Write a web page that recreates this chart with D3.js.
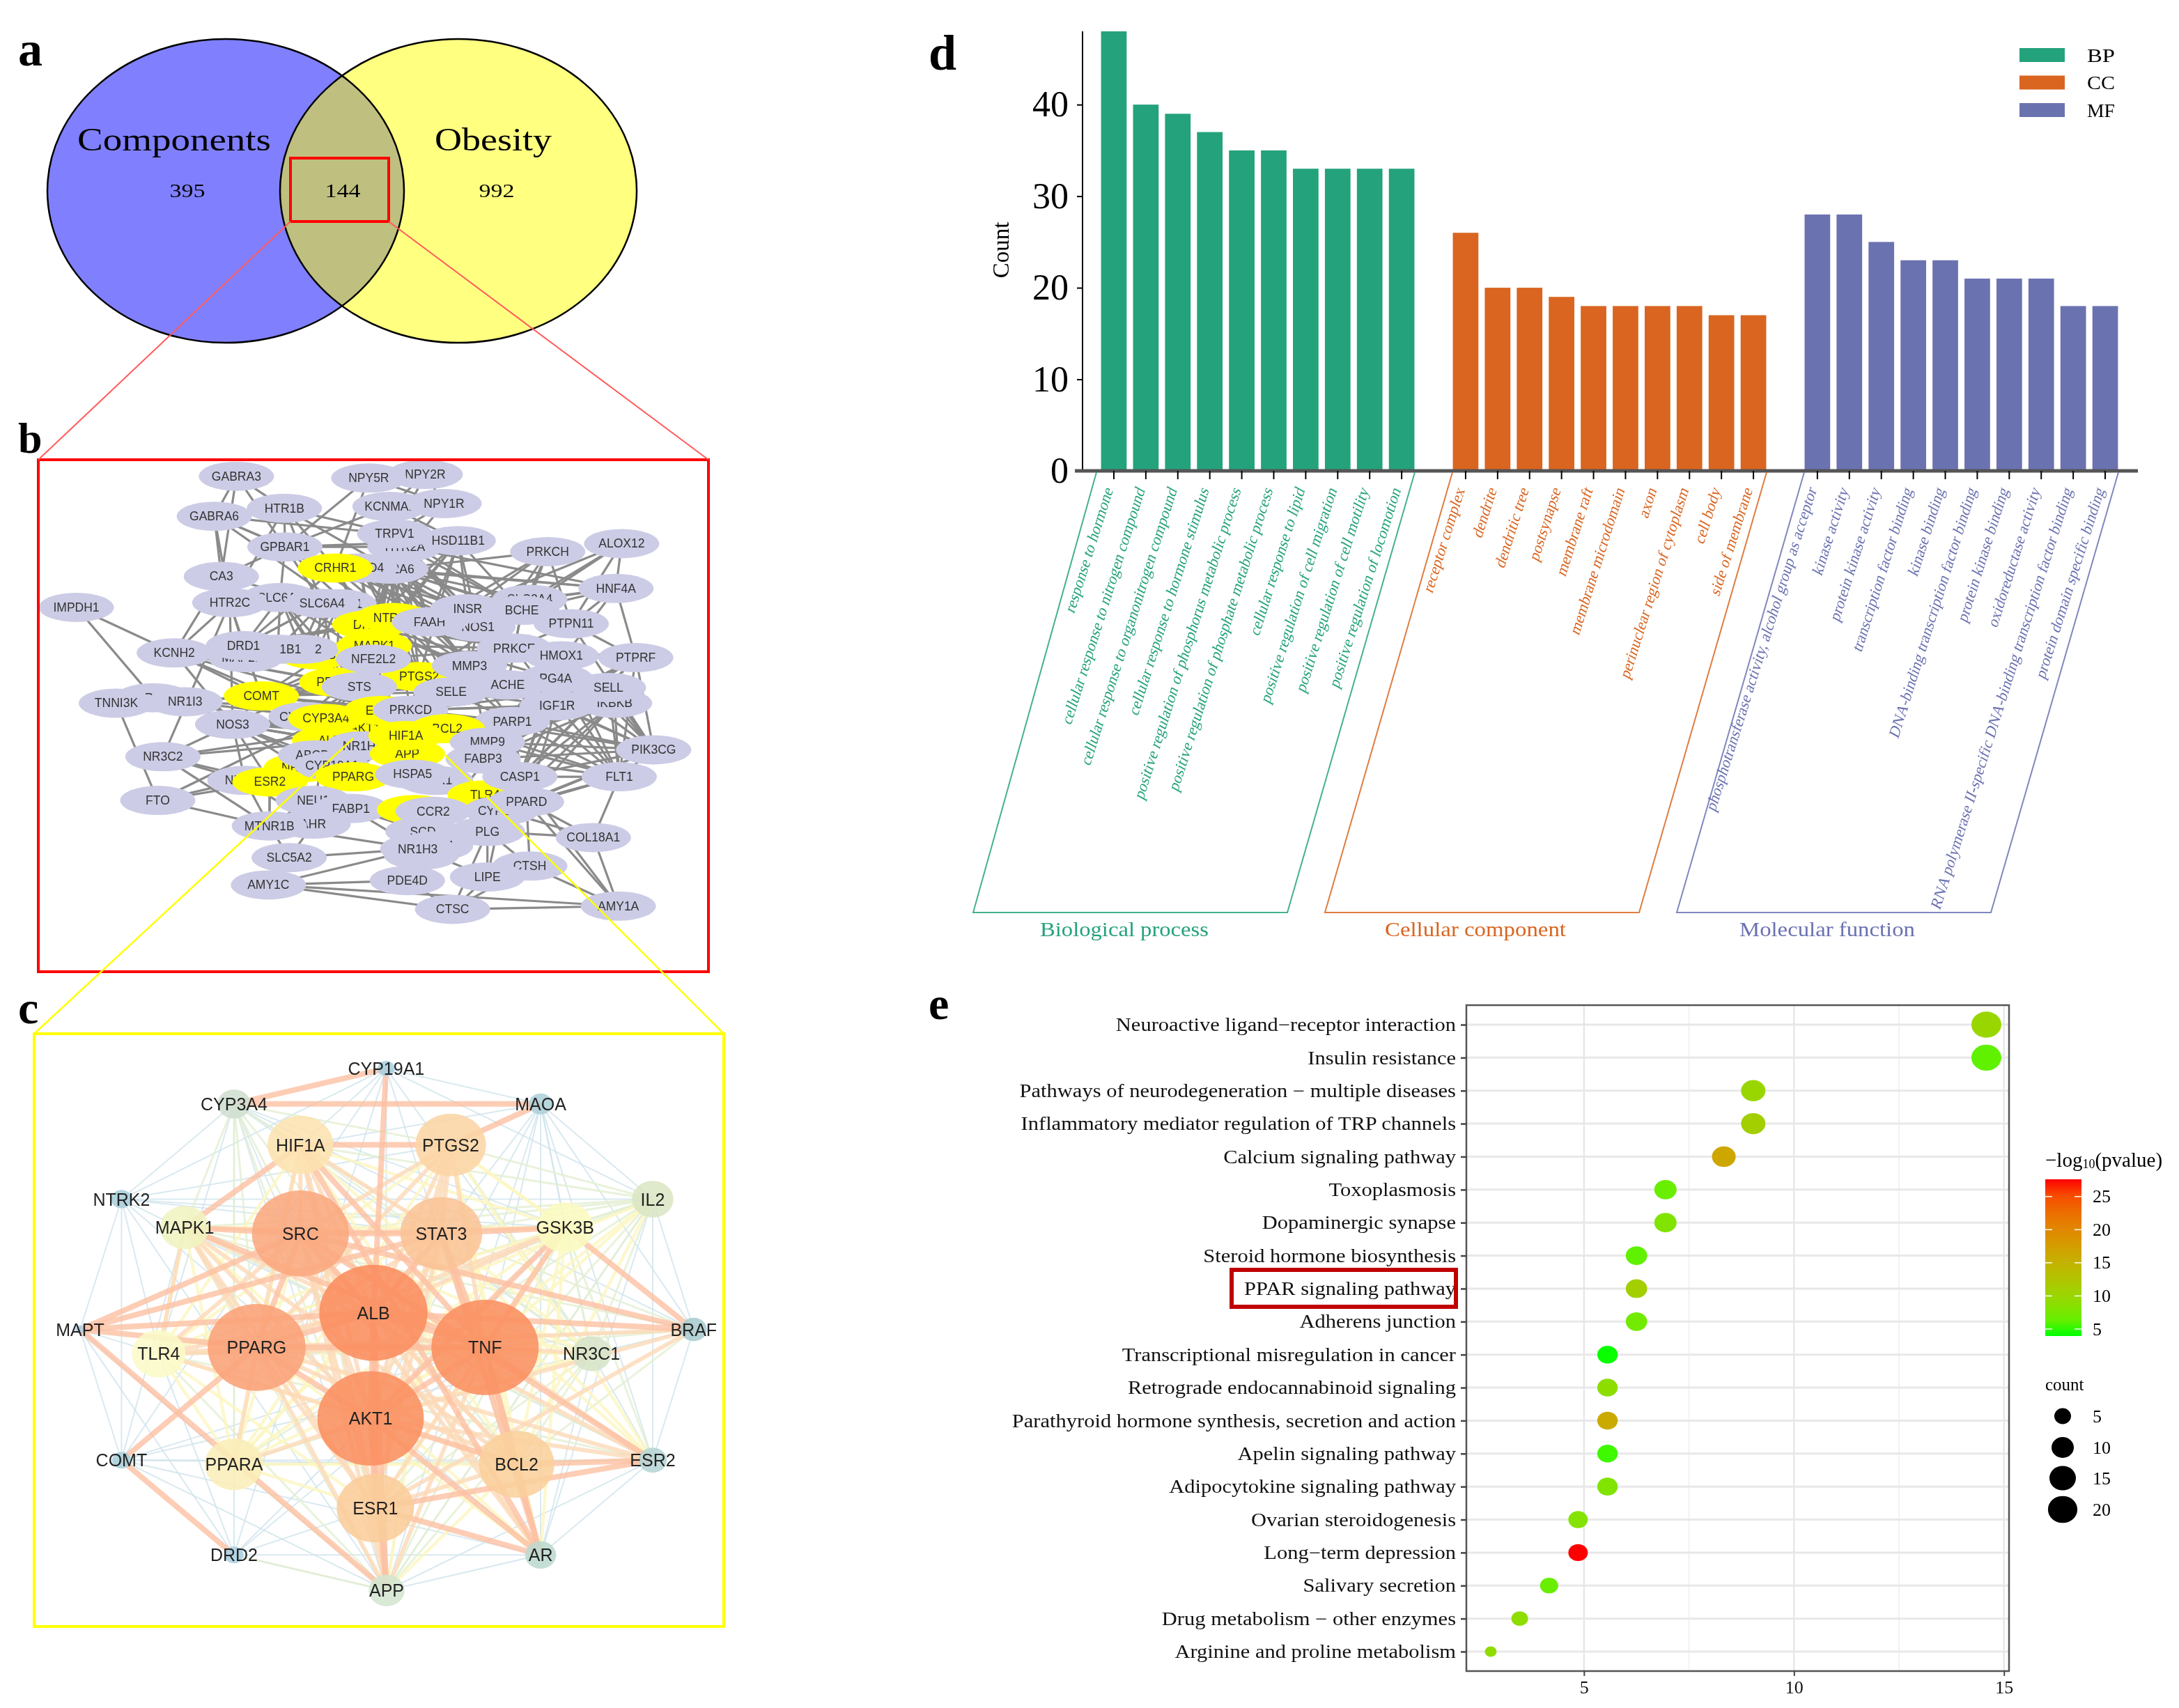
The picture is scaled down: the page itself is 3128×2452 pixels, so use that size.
<!DOCTYPE html>
<html><head><meta charset="utf-8">
<script src="https://cdnjs.cloudflare.com/ajax/libs/d3/7.8.5/d3.min.js"></script>
<style>html,body{margin:0;background:#fff}svg{display:block;filter:blur(.7px)}</style></head>
<body><svg id="c" width="3128" height="2452" viewBox="0 0 3128 2452"></svg>
<script>
// ---------- data ----------
const vennCounts=[395,144,992];
const vennNames=["Components","Obesity"];

// panel b: network (layout coordinates, draw order matters)
const bYellow=["CRHR1","DRD2","NTRK2","MAPK1","GSK3B","PPARA","PTGS2","COMT","CYP3A4","ESR1","AKT1","ALB","NR3C1","BCL2","APP","HIF1A","ESR2","PPARG","TLR4","SRC"];
const bLayout=[["GABRA3",502,160],["NPY2R",903,155],["NPY5R",783,165],["GABRA6",455,270],["HTR1B",604,248],["KCNMA1",828,243],["NPY1R",943,235],["HTR2A",860,354],["TRPV1",838,318],["HSD11B1",973,337],["GPBAR1",605,354],["CYP2A6",830,415],["CYP2D4",765,412],["CRHR1",712,412],["PRKCH",1163,367],["ALOX12",1320,345],["CA3",470,435],["HNF4A",1308,468],["IMPDH1",162,520],["SLC6A3",595,493],["HTR2C",488,507],["CYP1A1",720,510],["SLC6A4",684,509],["DRD2",785,568],["NTRK2",835,548],["NOS1",1015,574],["FAAH",912,560],["INSR",993,524],["SLC2A4",1125,498],["BCHE",1108,528],["PTPN11",1213,565],["KCNH2",370,645],["GSK3B",670,650],["MAP2K2",522,658],["ADRB2",640,635],["CYP1B1",590,635],["DRD1",517,625],["MAPK1",795,625],["PPARA",715,725],["PTGS2",890,710],["NFE2L2",793,662],["STS",763,738],["PRKCE",1092,632],["HMOX1",1192,653],["PTPRF",1350,658],["MMP3",997,680],["PG4A",1180,716],["ACHE",1078,733],["IKBKB",1305,783],["SELL",1292,740],["IGF1R",1183,790],["SELE",958,752],["COMT",555,763],["NR1I2",325,768],["NR1I3",393,779],["TNNI3K",247,783],["CYP17A1",650,820],["NOS3",494,841],["AKT1",775,850],["CYP3A4",692,825],["ESR1",810,803],["PRKCD",872,802],["PARP1",1088,833],["BCL2",950,853],["NR3C1",640,960],["ALB",700,885],["ABCB1",670,925],["CYP19A1",705,955],["NR1H4",770,900],["APP",865,922],["HIF1A",862,872],["MMP9",1035,890],["FABP3",1026,936],["PIK3CG",1388,911],["NR3C2",346,930],["NR1H2",520,995],["ESR2",573,999],["CNR1",925,995],["PPARG",750,985],["HSPA5",876,978],["TLR4",1030,1035],["CASP1",1104,985],["FLT1",1315,985],["CYP2C9",1065,1078],["PPARD",1118,1054],["FTO",335,1050],["NEU1",665,1050],["FABP1",745,1072],["AHR",665,1115],["MTNR1B",572,1120],["SRC",880,1075],["SCD",898,1135],["CCR2",920,1080],["PLG",1035,1135],["COL18A1",1260,1152],["CTSL1",925,1175],["FABP4",895,1200],["NR1H3",887,1183],["SLC5A2",614,1207],["CTSH",1125,1230],["LIPE",1035,1260],["PDE4D",865,1270],["AMY1C",570,1282],["CTSC",961,1349],["AMY1A",1313,1340]];
const bLinks={
IMPDH1:"KCNH2 NR1I2",TNNI3K:"FTO",FTO:"MTNR1B ESR2 NR1H2 CYP3A4",NR3C2:"NOS3 ESR2 HIF1A AKT1 NR1H2 MTNR1B",
GABRA3:"GABRA6 GPBAR1 HTR1B CA3",GABRA6:"CA3 GPBAR1 HTR2C HSD11B1 CRHR1 CYP1A1",HTR1B:"TRPV1 GPBAR1 SLC6A4 CRHR1 HTR2C CYP2A6",NPY5R:"GPBAR1 NPY1R NPY2R CRHR1",NPY2R:"NPY1R KCNMA1 TRPV1",NPY1R:"TRPV1 CYP2A6 KCNMA1",KCNMA1:"TRPV1 HSD11B1 GPBAR1 NTRK2",
CA3:"HTR2C SLC6A4 KCNH2 GPBAR1",HTR2C:"KCNH2 DRD1 SLC6A4 NOS3 NR3C2 COMT",GPBAR1:"SLC6A3 SLC6A4 CRHR1 HTR2A HSD11B1 NTRK2 DRD2",
PRKCH:"CYP2A6 INSR BCHE SLC2A4 PTPN11 FAAH SELE",ALOX12:"HNF4A PTPN11 PTGS2 SLC2A4 FAAH",HNF4A:"SLC2A4 CYP2A6 INSR PTPRF BCHE PTPN11 NR1H3 CYP2D4 HTR2A",PTPRF:"PTPN11 HMOX1 SELL IGF1R PRKCE PIK3CG PARP1 MMP9 FABP3 CASP1 FLT1",PIK3CG:"SELL IKBKB IGF1R PARP1 PTPN11 FABP3 CASP1 FLT1 MMP9 HMOX1 PG4A PPARD CYP2C9 ACHE PRKCD",FLT1:"PPARD CASP1 IGF1R FABP3 PARP1 COL18A1 MMP9 SELL HMOX1 PG4A IKBKB CYP2C9 ACHE PRKCD",COL18A1:"PPARD PLG CYP2C9 AMY1A",AMY1A:"AMY1C CTSC PPARD CTSH CASP1",AMY1C:"SLC5A2 PDE4D CTSC NR1H3",CTSC:"CTSH PDE4D PLG LIPE",CTSH:"PLG PPARD",LIPE:"NR1H3 PLG CYP2C9",PDE4D:"NR1H3 CCR2",SLC5A2:"MTNR1B NR1H3 AHR",MTNR1B:"AHR NR1H3 CCR2 ESR2 HIF1A",
KCNH2:"NOS3 COMT DRD1 NFE2L2 PPARA CYP3A4 ESR1 STS ADRB2 GSK3B",NR1I3:"COMT CYP3A4 NR1H4 ESR1 NOS3",NOS3:"COMT CYP3A4 HIF1A ESR1 AKT1 ALB PPARG ESR2 NR3C1 NR1H2 NR1H4 ABCB1 BCL2",
COMT:"DRD1 DRD2 MAPK1 PPARA PTGS2 STS ESR1 CYP3A4 NFE2L2 PRKCD SELE ACHE",
DRD1:"DRD2 SLC6A3 SLC6A4 ADRB2 GSK3B MAPK1 NTRK2 CYP1B1 HTR2C CRHR1",SLC6A4:"DRD2 NTRK2 ADRB2 CYP1B1 GSK3B MAPK1 FAAH DRD1 NFE2L2 PPARA",SLC6A3:"DRD2 ADRB2 GSK3B MAPK1 CYP1B1 NTRK2 PPARA NFE2L2 STS",CYP1A1:"DRD2 ADRB2 GSK3B MAPK1 NFE2L2 PPARA",
CYP2A6:"CYP2D4 CRHR1 NTRK2 DRD2 FAAH INSR NOS1 PTPN11 MMP3 SELE MAPK1 PTGS2 HTR2A TRPV1 NFE2L2 BCHE SLC2A4",CYP2D4:"NTRK2 DRD2 INSR FAAH MAPK1 NOS1 PTGS2 HTR2A NFE2L2 MMP3",HTR2A:"NTRK2 DRD2 INSR FAAH BCHE NOS1 MAPK1 PTGS2",TRPV1:"NTRK2 FAAH INSR HSD11B1 NOS1 DRD2 MAPK1 BCHE",HSD11B1:"INSR FAAH PTGS2 BCHE NOS1 NTRK2 DRD2 MAPK1",CRHR1:"NTRK2 DRD2 INSR FAAH MAPK1 NOS1",
NTRK2:"MMP3 PRKCE SELE PTGS2 HMOX1 PRKCD PARP1",DRD2:"MMP3 PRKCE HMOX1 ACHE PG4A",MMP3:"PRKCE HMOX1 SELE PARP1 ACHE MMP9 INSR FAAH NOS1 PG4A",PRKCE:"HMOX1 IGF1R PTPN11 NOS1 SELE NFE2L2 PTGS2 MAPK1",BCHE:"PTPN11 NOS1 ACHE PRKCE",
NFE2L2:"PPARA CYP3A4 ESR1 STS HIF1A NOS3 CYP17A1",STS:"ESR1 CYP3A4 PPARG ALB NR1I3 CYP17A1",SELE:"PRKCD PARP1 IGF1R SELL HIF1A",PRKCD:"PARP1 BCL2 MMP9 IGF1R PTGS2 FABP3 IKBKB SELL",
PARP1:"IGF1R IKBKB MMP9 FABP3 CASP1 SELL HMOX1 PPARD CYP2C9 PG4A",IGF1R:"FABP3 CASP1 MMP9 IKBKB SELL HMOX1 PPARD CYP2C9",MMP9:"FABP3 CASP1 IKBKB SELL HMOX1 PPARD",FABP3:"CASP1 IKBKB HMOX1 PPARD SELL PG4A",CASP1:"IKBKB SELL HMOX1 PPARD PG4A",IKBKB:"HMOX1 PPARD CYP2C9",
ESR2:"NR1H2 MTNR1B AHR CYP19A1 NEU1 FABP1",NR1H2:"ABCB1 AHR MTNR1B NR3C1",ALB:"PPARG CYP19A1 NR1H4 ABCB1 NR3C1 NOS3",AHR:"CYP19A1 CYP3A4 NEU1",FABP1:"NR1H3 SCD PLG CCR2",NR1H3:"CCR2 PLG SCD",PPARD:"PLG CYP2C9 TLR4",PLG:"TLR4"
};

// panel c: hub network (layout coordinates + node radius + colour)
const cNames=["CYP19A1","CYP3A4","MAOA","HIF1A","PTGS2","NTRK2","IL2","MAPK1","SRC","STAT3","GSK3B","MAPT","BRAF","TLR4","PPARG","ALB","TNF","NR3C1","COMT","PPARA","AKT1","BCL2","ESR2","ESR1","DRD2","AR","APP"];
const cX=[820,497,1148,638,957,258,1386,392,638,937,1200,170,1473,337,545,793,1030,1256,258,497,787,1097,1386,797,497,1148,821];
const cY=[190,275,275,373,373,503,503,571,585,585,571,815,815,873,858,775,858,873,1128,1138,1028,1138,1128,1243,1355,1355,1440];
const cR=[18,35,25,70,75,22,44,52,103,87,60,10,28,57,104,115,114,42,20,62,113,80,30,82,20,33,38];
const cFill=["#a9cfe0","#cfdfd0","#aed0d8","#fde3b0","#fcd5a5","#a9cfdc","#dbe6c4","#f0f4c0","#fba87e","#fbc496","#fbfac0","#b0d0e0","#a9ccd0","#fafac8","#fba277","#fb8d5e","#fb9060","#d7e4c8","#a9cfdc","#fbeeb8","#fb8f60","#fbd09c","#b6d5d5","#fbcd9a","#aacfe0","#bcd9d0","#d4e6d0"];
const cEdges1="NTRK2-IL2 NTRK2-COMT NTRK2-MAPT NTRK2-GSK3B NTRK2-CYP19A1 NTRK2-AR NTRK2-STAT3 NTRK2-APP NTRK2-ESR2 NTRK2-TLR4 NTRK2-PTGS2 MAOA-IL2 MAOA-NR3C1 MAOA-BRAF MAOA-TNF MAOA-ESR2 MAOA-AR MAOA-GSK3B MAOA-CYP19A1 MAOA-HIF1A MAOA-AKT1 MAOA-APP MAOA-STAT3 CYP19A1-HIF1A CYP19A1-APP CYP19A1-AR CYP19A1-DRD2 CYP19A1-NR3C1 CYP19A1-IL2 CYP19A1-COMT COMT-ESR2 COMT-NR3C1 COMT-AR COMT-APP COMT-MAPK1 COMT-BCL2 COMT-MAPT COMT-TNF DRD2-MAPT DRD2-ESR1 DRD2-TLR4 DRD2-AR DRD2-APP DRD2-TNF DRD2-GSK3B BRAF-NR3C1 BRAF-ESR2 BRAF-IL2 BRAF-CYP3A4 MAPT-TLR4 MAPT-PPARA ESR2-AR ESR2-NR3C1 ESR2-APP AR-NR3C1 AR-IL2 AR-APP IL2-APP IL2-ESR2 CYP3A4-NTRK2 CYP3A4-DRD2 CYP3A4-TLR4 CYP3A4-NR3C1 CYP3A4-GSK3B CYP3A4-HIF1A CYP3A4-APP CYP3A4-AKT1".split(" ");
const cEdges2="IL2-GSK3B IL2-MAPK1 IL2-PTGS2 IL2-HIF1A IL2-STAT3 IL2-TLR4 IL2-PPARA IL2-SRC IL2-NR3C1 IL2-PPARG IL2-ESR1 CYP3A4-PPARA CYP3A4-MAPK1 CYP3A4-SRC CYP3A4-STAT3 CYP3A4-PTGS2 CYP3A4-PPARG CYP3A4-ESR1 CYP3A4-BCL2 APP-DRD2 APP-PPARA APP-TLR4 APP-IL2 APP-NR3C1 APP-GSK3B APP-PTGS2 APP-HIF1A APP-MAPK1 NR3C1-MAPK1 NR3C1-HIF1A NR3C1-PTGS2 NR3C1-PPARA NR3C1-TLR4 NR3C1-GSK3B NR3C1-BCL2 NR3C1-ESR1 BRAF-TLR4 BRAF-STAT3 BRAF-TNF BRAF-BCL2 BRAF-MAPK1 ESR2-MAPK1 ESR2-PPARA ESR2-GSK3B ESR2-TLR4".split(" ");
const cEdges3="TLR4-MAPK1 TLR4-GSK3B TLR4-STAT3 TLR4-PTGS2 TLR4-HIF1A TLR4-BCL2 TLR4-PPARA TLR4-ESR1 PPARA-MAPK1 PPARA-GSK3B PPARA-HIF1A PPARA-PTGS2 PPARA-STAT3 PPARA-BCL2 PPARA-TNF PPARA-ALB PPARA-ESR1 PPARA-SRC GSK3B-MAPK1 GSK3B-HIF1A GSK3B-PTGS2 GSK3B-BCL2 GSK3B-ESR1 HIF1A-BCL2 PTGS2-BCL2 PTGS2-GSK3B APP-BCL2 APP-STAT3 AR-PTGS2 AR-GSK3B AR-MAPK1 AR-BCL2 AR-PPARG ESR2-PTGS2 ESR2-STAT3 ESR2-HIF1A IL2-TNF IL2-ALB IL2-AKT1 IL2-BCL2 NR3C1-AKT1 NR3C1-ALB NR3C1-STAT3 NR3C1-SRC NR3C1-PPARG".split(" ");
const cEdges4="HIF1A-SRC HIF1A-STAT3 HIF1A-ALB HIF1A-AKT1 HIF1A-PPARG HIF1A-ESR1 PTGS2-SRC PTGS2-STAT3 PTGS2-ALB PTGS2-AKT1 PTGS2-TNF PTGS2-PPARG PTGS2-ESR1 MAPK1-PPARG MAPK1-ALB MAPK1-AKT1 MAPK1-STAT3 MAPK1-BCL2 MAPK1-ESR1 MAPK1-TLR4 GSK3B-SRC GSK3B-ALB GSK3B-PPARG TLR4-PPARG TLR4-SRC TLR4-ALB TLR4-TNF TLR4-AKT1 BCL2-SRC BCL2-STAT3 BCL2-ALB BCL2-PPARG BCL2-ESR1 ESR1-SRC ESR1-STAT3 ESR1-TNF ESR1-PPARG PPARA-AKT1 PPARA-PPARG STAT3-PPARG STAT3-AKT1 SRC-TNF SRC-AKT1 APP-TNF APP-ESR1 APP-SRC APP-PPARG AR-ALB AR-SRC AR-BCL2 ESR2-TNF ESR2-PPARG ESR2-ALB ESR2-AKT1 NR3C1-TNF BRAF-ESR1 BRAF-AKT1 BRAF-PPARG".split(" ");
const cEdges5="CYP3A4-CYP19A1 CYP3A4-MAOA MAOA-PTGS2 CYP19A1-ALB HIF1A-PTGS2 MAPK1-HIF1A SRC-STAT3 SRC-MAPK1 MAPT-ALB MAPT-STAT3 MAPT-SRC MAPT-APP MAPT-PPARG COMT-PPARG COMT-DRD2 ESR2-BCL2 ESR2-ESR1 ESR1-AR TNF-ALB TNF-AKT1 ALB-AKT1 PPARG-ALB PPARG-AKT1 PPARG-TNF PPARG-SRC SRC-ALB STAT3-ALB AKT1-ESR1 ALB-ESR1 TNF-STAT3 TNF-BCL2 AKT1-BCL2 BRAF-GSK3B BRAF-SRC AR-AKT1 AR-TNF AR-STAT3 APP-AKT1 APP-ALB ESR2-SRC HIF1A-TNF GSK3B-STAT3 GSK3B-TNF GSK3B-AKT1 MAPK1-TNF BRAF-ALB AR-HIF1A".split(" ");

// panel d: GO bars
const bpTerms=["response to hormone","cellular response to nitrogen compound","cellular response to organonitrogen compound","cellular response to hormone stimulus","positive regulation of phosphorus metabolic process","positive regulation of phosphate metabolic process","cellular response to lipid","positive regulation of cell migration","positive regulation of cell motility","positive regulation of locomotion"];
const bpCounts=[48,40,39,37,35,35,33,33,33,33];
const ccTerms=["receptor complex","dendrite","dendritic tree","postsynapse","membrane raft","membrane microdomain","axon","perinuclear region of cytoplasm","cell body","side of membrane"];
const ccCounts=[26,20,20,19,18,18,18,18,17,17];
const mfTerms=["phosphotransferase activity, alcohol group as acceptor","kinase activity","protein kinase activity","transcription factor binding","kinase binding","DNA-binding transcription factor binding","protein kinase binding","oxidoreductase activity","RNA polymerase II-specific DNA-binding transcription factor binding","protein domain specific binding"];
const mfCounts=[28,28,25,23,23,21,21,21,18,18];
const yTicksD=[0,10,20,30,40];
const groupKeys=["BP","CC","MF"];
const groupTitles=["Biological process","Cellular component","Molecular function"];

// panel e: KEGG bubbles
const keggTerms=["Neuroactive ligand\u2212receptor interaction","Insulin resistance","Pathways of neurodegeneration \u2212 multiple diseases","Inflammatory mediator regulation of TRP channels","Calcium signaling pathway","Toxoplasmosis","Dopaminergic synapse","Steroid hormone biosynthesis","PPAR signaling pathway","Adherens junction","Transcriptional misregulation in cancer","Retrograde endocannabinoid signaling","Parathyroid hormone synthesis, secretion and action","Apelin signaling pathway","Adipocytokine signaling pathway","Ovarian steroidogenesis","Long\u2212term depression","Salivary secretion","Drug metabolism \u2212 other enzymes","Arginine and proline metabolism"];
const keggRatio=[14.58,14.58,9.03,9.03,8.33,6.94,6.94,6.25,6.25,6.25,5.56,5.56,5.56,5.56,5.56,4.86,4.86,4.17,3.47,2.78];
const keggCount=[21,21,13,13,12,10,10,9,9,9,8,8,8,8,8,7,7,6,5,4];
const keggLogP=[10,6,10,11,16.5,6.5,8,6,11,7,4,9,16,4.8,8,8.2,27.6,6.5,9,9.2];
const colorTicks=[5,10,15,20,25];
const countTicks=[5,10,15,20];

// ---------- helpers ----------
const svg=d3.select("#c");
const serif="'Liberation Serif','Times New Roman',serif", sans="'Liberation Sans',Arial,sans-serif";
function T(g,s,x,y,o={}){
  const t=g.append("text").attr("x",x).attr("y",y).text(s)
    .attr("font-family",o.font||serif).attr("font-size",o.size||24).attr("fill",o.fill||"#000")
    .attr("text-anchor",o.anchor||"middle").attr("dominant-baseline",o.base||"central");
  if(o.weight)t.attr("font-weight",o.weight);
  if(o.len)t.attr("textLength",o.len).attr("lengthAdjust","spacingAndGlyphs");
  return t;
}
const defs=svg.append("defs");

// panel letters
[["a",26,94,70],["b",26,650,62],["c",26,1469,66],["d",1333,100,72],["e",1333,1463,66]].forEach(([s,x,y,z])=>
  T(svg,s,x,y,{size:z,weight:"bold",anchor:"start",base:"auto"}));

// ---------- panel a: venn ----------
const gA=svg.append("g");
const vennSets=[{cx:324,fill:"#8080ff"},{cx:658,fill:"#ffff80"}];
defs.append("clipPath").attr("id","venL").append("ellipse").attr("cx",324).attr("cy",274).attr("rx",256).attr("ry",218);
gA.selectAll(".v").data(vennSets).join("ellipse").attr("cx",d=>d.cx).attr("cy",274).attr("rx",256).attr("ry",218).attr("fill",d=>d.fill);
gA.append("ellipse").attr("cx",658).attr("cy",274).attr("rx",256).attr("ry",218).attr("fill","#bfbf80").attr("clip-path","url(#venL)");
gA.selectAll(".vs").data(vennSets).join("ellipse").attr("cx",d=>d.cx).attr("cy",274).attr("rx",256).attr("ry",218).attr("fill","none").attr("stroke","#000").attr("stroke-width",2.5);
T(gA,vennNames[0],250,200,{size:47,len:278});
T(gA,vennNames[1],708,200,{size:47,len:168});
[269,492,713].forEach((x,i)=>T(gA,vennCounts[i],x,274,{size:27,len:51}));
gA.append("rect").attr("x",417).attr("y",227).attr("width",141).attr("height",91).attr("fill","none").attr("stroke","#f00").attr("stroke-width",4);

// ---------- panel b ----------
const bx=d3.scaleLinear([0,1568],[0,1060]), by=d3.scaleLinear([0,1568],[600,1420]);
const gB=svg.append("g");
const bPos=new Map(bLayout.map(d=>[d[0],d]));
const bEdges=[];
Object.entries(bLinks).forEach(([a,l])=>l.split(" ").forEach(b=>{if(bPos.has(a)&&bPos.has(b))bEdges.push([a,b]);}));
gB.selectAll("line").data(bEdges).join("line")
  .attr("x1",d=>bx(bPos.get(d[0])[1])).attr("y1",d=>by(bPos.get(d[0])[2]))
  .attr("x2",d=>bx(bPos.get(d[1])[1])).attr("y2",d=>by(bPos.get(d[1])[2]))
  .attr("stroke","#8a8a8a").attr("stroke-width",3.2);
const bN=gB.selectAll("g.n").data(bLayout).join("g").attr("class","n").attr("transform",d=>`translate(${bx(d[1])},${by(d[2])})`);
bN.append("ellipse").attr("rx",54).attr("ry",21).attr("fill",d=>bYellow.includes(d[0])?"#ffff00":"#ccccE6");
bN.append("text").text(d=>d[0]).attr("text-anchor","middle").attr("dominant-baseline","central").attr("font-family",sans).attr("font-size",17.5).attr("fill","#333");
svg.append("rect").attr("x",55).attr("y",660).attr("width",962).attr("height",735).attr("fill","none").attr("stroke","#f00").attr("stroke-width",4);
// zoom connectors
[[417,318,55,660],[558,318,1017,660]].forEach(p=>svg.append("line").attr("x1",p[0]).attr("y1",p[1]).attr("x2",p[2]).attr("y2",p[3]).attr("stroke","#ff5a5a").attr("stroke-width",2));
[[507,1060,49,1484],[639,1084,1039,1484]].forEach(p=>svg.append("line").attr("x1",p[0]).attr("y1",p[1]).attr("x2",p[2]).attr("y2",p[3]).attr("stroke","#ffff00").attr("stroke-width",2.5));

// ---------- panel c ----------
const cx=d3.scaleLinear([0,1568],[0,1060]), cy=d3.scaleLinear([0,1568],[1420,2360]);
const gC=svg.append("g");
const cIdx=new Map(cNames.map((n,i)=>[n,i]));
const tiers=[[cEdges1,"#cfe4ec",2],[cEdges2,"#e3efd2",3],[cEdges3,"#fdf6c0",4.5],[cEdges4,"#fdd9b8",6],[cEdges5,"#fcc0a2",8]];
tiers.forEach(([list,col,w])=>{
  gC.append("g").selectAll("line").data(list.map(e=>e.split("-"))).join("line")
   .attr("x1",d=>cx(cX[cIdx.get(d[0])])).attr("y1",d=>cy(cY[cIdx.get(d[0])]))
   .attr("x2",d=>cx(cX[cIdx.get(d[1])])).attr("y2",d=>cy(cY[cIdx.get(d[1])]))
   .attr("stroke",col).attr("stroke-width",w).attr("stroke-opacity",.8);
});
const cN=gC.selectAll("g.cn").data(cNames).join("g").attr("class","cn").attr("transform",(d,i)=>`translate(${cx(cX[i])},${cy(cY[i])})`);
cN.append("ellipse").attr("rx",(d,i)=>cR[i]*1060/1568).attr("ry",(d,i)=>cR[i]*940/1568).attr("fill",(d,i)=>cFill[i]).attr("fill-opacity",.88);
cN.append("text").text(d=>d).attr("text-anchor","middle").attr("dominant-baseline","central").attr("font-family",sans).attr("font-size",25).attr("fill","#222");
svg.append("rect").attr("x",49).attr("y",1484).attr("width",990).attr("height",851).attr("fill","none").attr("stroke","#ffff00").attr("stroke-width",4);

// ---------- panel d ----------
const gD=svg.append("g");
const groups=[{k:"BP",t:bpTerms,c:bpCounts,col:"#24a27c"},{k:"CC",t:ccTerms,c:ccCounts,col:"#d96520"},{k:"MF",t:mfTerms,c:mfCounts,col:"#6b72b0"}];
const dDomain=[...bpTerms,"_g1",...ccTerms,"_g2",...mfTerms];
const dx=d3.scaleBand(dDomain,[1576,3045]).paddingInner(.2).paddingOuter(.1);
const dy=d3.scaleLinear([0,48],[676,45]);
const dCol=new Map(); groups.forEach(g=>g.t.forEach(t=>dCol.set(t,g.col)));
groups.forEach(g=>{
  gD.append("g").selectAll("rect").data(g.t).join("rect")
    .attr("x",d=>dx(d)).attr("width",dx.bandwidth())
    .attr("y",(d,i)=>dy(g.c[i])).attr("height",(d,i)=>dy(0)-dy(g.c[i])).attr("fill",g.col);
});
// y axis
const yA=gD.append("g").attr("transform","translate(1554,0)").call(d3.axisLeft(dy).tickValues(yTicksD).tickSize(8).tickPadding(12));
yA.selectAll("text").attr("font-family",serif).attr("font-size",52).attr("fill","#000");
yA.selectAll("path,line").attr("stroke","#000").attr("stroke-width",2);
yA.select(".domain").attr("d",`M0,${dy(48)}V${dy(0)}`);
T(gD,"Count",1437,359,{size:33}).attr("transform","rotate(-90 1437 359)");
// x axis
const xTerms=[...bpTerms,...ccTerms,...mfTerms];
const xA=gD.append("g").attr("transform","translate(0,676)").call(d3.axisBottom(dx).tickValues(xTerms).tickSize(12));
xA.select(".domain").attr("d","M1543,0H3069").attr("stroke","#555").attr("stroke-width",5);
xA.selectAll("line").attr("stroke","#000").attr("stroke-width",2);
xA.selectAll("text").attr("x",null).attr("y",null).attr("dy",".35em").attr("text-anchor","end")
  .attr("font-family",serif).attr("font-size",22.4).attr("fill",d=>dCol.get(d))
  .attr("transform","translate(-8,24) rotate(-72.5) skewX(-12)");
// bracket parallelograms
const bracketTop=[[1574,2031],[2085,2536],[2590,3041]], bracketBot=[[1397,1848],[1902,2353],[2407,2858]];
const lineGen=d3.line();
groups.forEach((g,i)=>{
  gD.append("path").attr("d",lineGen([[bracketTop[i][0],678],[bracketBot[i][0],1310],[bracketBot[i][1],1310],[bracketTop[i][1],678]]))
    .attr("fill","none").attr("stroke",g.col).attr("stroke-width",2).attr("stroke-opacity",.85);
});
[[1614,242],[2118,260],[2623,252]].forEach(([x,l],i)=>T(gD,groupTitles[i],x,1334,{size:29,fill:groups[i].col,len:l}));
// legend
groups.forEach((g,i)=>{
  const y=[79,118.5,158][i];
  gD.append("rect").attr("x",2899).attr("y",y-10).attr("width",65).attr("height",20).attr("fill",g.col);
  T(gD,groupKeys[i],2996,y,{size:28,anchor:"start",len:40});
});

// ---------- panel e ----------
const gE=svg.append("g");
const ex=d3.scaleLinear([2.2,15.12],[2105,2884]);
const ey=d3.scalePoint(keggTerms,[1471,2371]);
const eColor=d3.scaleLinear([3.95,27.6],["#00ff00","#ff0000"]).interpolate(d3.interpolateLab);
const eSize=d3.scaleSqrt([4,5,7,10,13,15,21],[8.5,12,14,16,17.5,19,21.5]);
const plot={x:2105,y:1443,w:779,h:956};
gE.append("g").selectAll("line").data([7.5,12.5]).join("line").attr("x1",d=>ex(d)).attr("x2",d=>ex(d)).attr("y1",plot.y).attr("y2",plot.y+plot.h).attr("stroke","#eee").attr("stroke-width",1.5);
gE.append("g").selectAll("line").data([5,10,15]).join("line").attr("x1",d=>ex(d)).attr("x2",d=>ex(d)).attr("y1",plot.y).attr("y2",plot.y+plot.h).attr("stroke","#e2e2e2").attr("stroke-width",2);
gE.append("g").selectAll("line").data(keggTerms).join("line").attr("x1",plot.x).attr("x2",plot.x+plot.w).attr("y1",d=>ey(d)).attr("y2",d=>ey(d)).attr("stroke","#e8e8e8").attr("stroke-width",3);
gE.selectAll("ellipse.b").data(keggTerms).join("ellipse").attr("class","b")
  .attr("cx",(d,i)=>ex(keggRatio[i])).attr("cy",d=>ey(d))
  .attr("rx",(d,i)=>eSize(keggCount[i])).attr("ry",(d,i)=>eSize(keggCount[i])*.87)
  .attr("fill",(d,i)=>eColor(keggLogP[i]));
gE.append("rect").attr("x",plot.x).attr("y",plot.y).attr("width",plot.w).attr("height",plot.h).attr("fill","none").attr("stroke","#555").attr("stroke-width",2.5);
const eyA=gE.append("g").attr("transform",`translate(${plot.x},0)`).call(d3.axisLeft(ey).tickSize(8).tickPadding(7));
eyA.select(".domain").remove();
eyA.selectAll("line").attr("stroke","#444").attr("stroke-width",2.5);
eyA.selectAll("text").attr("font-family",serif).attr("font-size",27).attr("fill","#111")
  .each(function(){const l=this.getComputedTextLength();d3.select(this).attr("textLength",l*1.13).attr("lengthAdjust","spacingAndGlyphs");});
const exA=gE.append("g").attr("transform",`translate(0,${plot.y+plot.h})`).call(d3.axisBottom(ex).tickValues([5,10,15]).tickSize(7).tickPadding(7));
exA.select(".domain").remove();
exA.selectAll("line").attr("stroke","#444").attr("stroke-width",2);
exA.selectAll("text").attr("font-family",serif).attr("font-size",26).attr("fill","#111");
gE.append("rect").attr("x",1768).attr("y",1823).attr("width",322).attr("height",53).attr("fill","none").attr("stroke","#c00000").attr("stroke-width",6);
// colour legend
const lt=T(gE,"\u2212log",2936,1665,{size:29,anchor:"start"});
lt.append("tspan").text("10").attr("font-size",18).attr("dy",6);
lt.append("tspan").text("(pvalue)").attr("dy",-6);
const grad=defs.append("linearGradient").attr("id","cb").attr("x1",0).attr("x2",0).attr("y1",1).attr("y2",0);
d3.range(0,1.001,.1).forEach(t=>grad.append("stop").attr("offset",t).attr("stop-color",eColor(3.95+t*23.65)));
gE.append("rect").attr("x",2936).attr("y",1693).attr("width",52).attr("height",225).attr("fill","url(#cb)");
const cbY=d3.scaleLinear([3.95,27.6],[1918,1693]);
colorTicks.forEach(v=>{
  gE.append("line").attr("x1",2936).attr("x2",2946).attr("y1",cbY(v)).attr("y2",cbY(v)).attr("stroke","#fff").attr("stroke-width",1.5);
  gE.append("line").attr("x1",2978).attr("x2",2988).attr("y1",cbY(v)).attr("y2",cbY(v)).attr("stroke","#fff").attr("stroke-width",1.5);
  T(gE,v,3004,cbY(v),{size:26,anchor:"start"});
});
T(gE,"count",2936,1987,{size:25,anchor:"start"});
countTicks.forEach((v,i)=>{
  const y=[2033,2078,2122,2167][i];
  gE.append("ellipse").attr("cx",2961).attr("cy",y).attr("rx",eSize(v)).attr("ry",eSize(v)*.87+1).attr("fill","#000");
  T(gE,v,3004,y,{size:26,anchor:"start"});
});
</script></body></html>
